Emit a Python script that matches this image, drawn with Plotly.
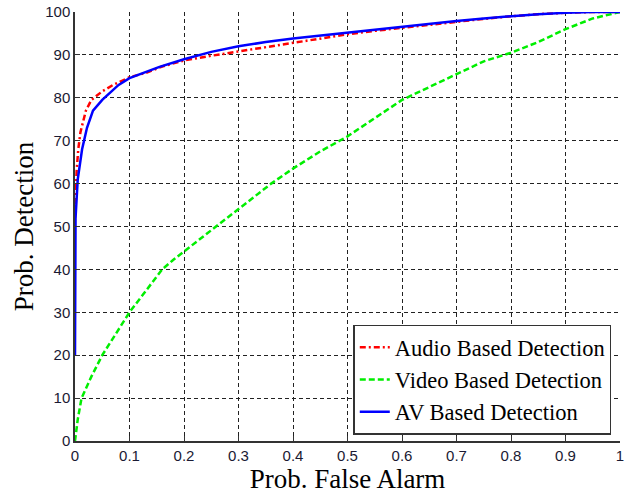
import plotly.graph_objects as go

audio_fa = [0, 0.001, 0.003, 0.006, 0.01, 0.02, 0.03, 0.05, 0.07, 0.1, 0.13, 0.16, 0.2, 0.25, 0.3, 0.35, 0.4, 0.45,
            0.5, 0.55, 0.6, 0.65, 0.7, 0.75, 0.8, 0.85, 0.9, 0.95, 1.0]
audio_pd = [52, 58, 63, 68, 72, 77, 79.5, 81.5, 83, 84.8, 85.8, 87.3, 88.7, 89.8, 90.8, 91.8, 92.8, 93.8,
            94.8, 95.6, 96.3, 97, 97.8, 98.4, 99, 99.5, 99.8, 100, 100]

video_fa = [0, 0.005, 0.012, 0.03, 0.05, 0.075, 0.1, 0.13, 0.16, 0.18, 0.2, 0.25, 0.3, 0.36, 0.4, 0.45, 0.5,
            0.55, 0.6, 0.65, 0.7, 0.75, 0.8, 0.85, 0.9, 0.95, 1.0]
video_pd = [0, 5, 10, 15, 20, 25, 30, 35, 40, 42.2, 44.2, 49, 54, 60, 63.5, 67.5, 71,
            75.2, 79.5, 82.5, 85.5, 88.5, 90.5, 93, 96, 98.5, 100]

av_fa = [0, 0.0005, 0.001, 0.005, 0.013, 0.022, 0.033, 0.05, 0.064, 0.08, 0.1, 0.13, 0.155, 0.2, 0.25, 0.3,
         0.35, 0.4, 0.45, 0.5, 0.55, 0.6, 0.65, 0.7, 0.75, 0.8, 0.85, 0.9, 0.95, 1.0]
av_pd = [20, 27, 52, 61, 68, 73, 77, 79.5, 81.2, 83, 84.6, 86, 87.2, 89, 90.7, 92.0,
         93, 93.8, 94.5, 95.2, 95.9, 96.5, 97.2, 97.9, 98.5, 99, 99.5, 99.8, 100, 100]

x_ticks = [0, 0.1, 0.2, 0.3, 0.4, 0.5, 0.6, 0.7, 0.8, 0.9, 1]
x_tick_labels = ["0", "0.1", "0.2", "0.3", "0.4", "0.5", "0.6", "0.7", "0.8", "0.9", "1"]
y_ticks = [0, 10, 20, 30, 40, 50, 60, 70, 80, 90, 100]

fig = go.Figure()
fig.add_trace(go.Scatter(x=audio_fa, y=audio_pd, mode="lines", name="Audio Based Detection",
                         line=dict(color="#ff0000", width=2.5, dash="6px,3px,2px,3px")))
fig.add_trace(go.Scatter(x=video_fa, y=video_pd, mode="lines", name="Video Based Detection",
                         line=dict(color="#00ee00", width=2.5, dash="6px,3px")))
fig.add_trace(go.Scatter(x=av_fa, y=av_pd, mode="lines", name="AV Based Detection",
                         line=dict(color="#0000ff", width=2.5)))

serif = "Liberation Serif, Times New Roman, serif"
tick_font = dict(family="Liberation Sans, Arial", size=15, color="#1a1a33")
fig.update_layout(
    width=626, height=499,
    margin=dict(l=75, r=6, t=12, b=58),
    paper_bgcolor="white", plot_bgcolor="white",
    legend=dict(x=0.984, y=0.015, xanchor="right", yanchor="bottom",
                bgcolor="white", bordercolor="#333333", borderwidth=1.5,
                font=dict(family=serif, size=22.5, color="black"),
                tracegroupgap=0),
    xaxis=dict(range=[0, 1], tickvals=x_ticks, ticktext=x_tick_labels, tickfont=tick_font,
               ticklabeloverflow="allow",
               showline=True, linecolor="#333333", linewidth=1.5, ticks="inside", ticklen=5,
               tickcolor="#333333", showgrid=True, gridcolor="#222222", griddash="4px,3px", gridwidth=1,
               zeroline=False, automargin=False,
               title=dict(text="Prob. False Alarm", font=dict(family=serif, size=27, color="black"),
                          standoff=4)),
    yaxis=dict(range=[0, 100], tickvals=y_ticks, tickfont=tick_font,
               showline=True, linecolor="#333333", linewidth=1.5, ticks="inside", ticklen=5,
               tickcolor="#333333", showgrid=True, gridcolor="#222222", griddash="4px,3px", gridwidth=1,
               zeroline=False, automargin=False,
               title=dict(text="Prob. Detection", font=dict(family=serif, size=27, color="black"),
                          standoff=4)),
)

fig.write_html("out.html", config={"displayModeBar": False},
               post_script="document.body.style.margin='0px';")
